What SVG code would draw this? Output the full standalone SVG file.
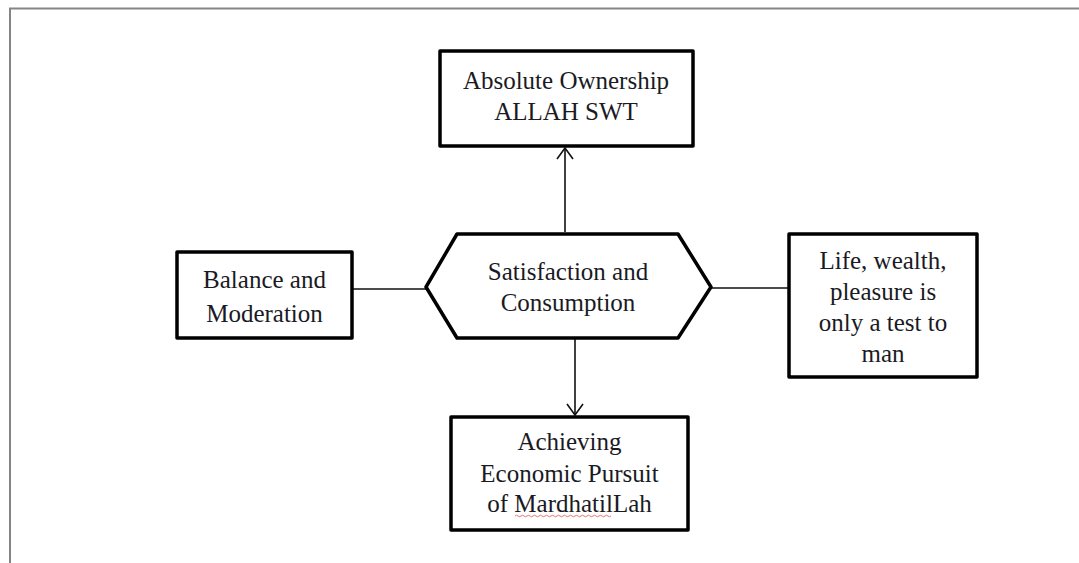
<svg xmlns="http://www.w3.org/2000/svg" width="1079" height="563" viewBox="0 0 1079 563">
<defs>
<style>
.box{fill:#fff;stroke:#000;stroke-width:3.5;stroke-linejoin:round}
.con{fill:none;stroke:#111;stroke-width:1.6}
.t{font-family:"Liberation Serif","Times New Roman",serif;font-size:25px;fill:#1a1a24;text-anchor:middle}
</style>
<marker id="arr" viewBox="0 0 20 20" refX="19" refY="10" markerWidth="20" markerHeight="20" markerUnits="userSpaceOnUse" orient="auto">
<path d="M8,2 L19,10 L8,18" fill="none" stroke="#111" stroke-width="1.6"/>
</marker>
</defs>
<rect width="1079" height="563" fill="#fff"/>
<path d="M10,570 L10,8.5 L1085,8.5" fill="none" stroke="#858585" stroke-width="2"/>
<g id="connectors">
<line class="con" x1="565" y1="232" x2="565" y2="148" marker-end="url(#arr)"/>
<line class="con" x1="575" y1="339" x2="575" y2="415" marker-end="url(#arr)"/>
<line class="con" x1="352" y1="289" x2="426" y2="289"/>
<line class="con" x1="711" y1="288" x2="789" y2="288"/>
</g>
<g id="ownership">
<rect class="box" x="440" y="51" width="253" height="95"/>
<text class="t" x="566" y="89">Absolute Ownership</text>
<text class="t" x="566" y="120">ALLAH SWT</text>
</g>
<g id="satisfaction">
<polygon class="box" points="426,287 457,234 678,234 711,287 678,338 457,338"/>
<text class="t" x="568" y="280">Satisfaction and</text>
<text class="t" x="568" y="311">Consumption</text>
</g>
<g id="balance">
<rect class="box" x="177" y="252" width="175" height="86"/>
<text class="t" x="264.5" y="288">Balance and</text>
<text class="t" x="264.5" y="322">Moderation</text>
</g>
<g id="life">
<rect class="box" x="789" y="234" width="188" height="143"/>
<text class="t" x="883" y="269">Life, wealth,</text>
<text class="t" x="883" y="300">pleasure is</text>
<text class="t" x="883" y="331">only a test to</text>
<text class="t" x="883" y="362">man</text>
</g>
<g id="achieving">
<rect class="box" x="451" y="417" width="237" height="113"/>
<text class="t" x="569.5" y="450">Achieving</text>
<text class="t" x="569.5" y="482">Economic Pursuit</text>
<text class="t" x="569.5" y="512">of MardhatilLah</text>
<path d="M515,516 q1.5,-1.5 3,0 t3,0 t3,0 t3,0 t3,0 t3,0 t3,0 t3,0 t3,0 t3,0 t3,0 t3,0 t3,0 t3,0 t3,0 t3,0 t3,0 t3,0 t3,0 t3,0 t3,0 t3,0 t3,0 t3,0 t3,0 t3,0 t3,0 t3,0 t3,0 t3,0 t3,0 t3,0" fill="none" stroke="#e05050" stroke-width="0.8"/>
</g>
</svg>
